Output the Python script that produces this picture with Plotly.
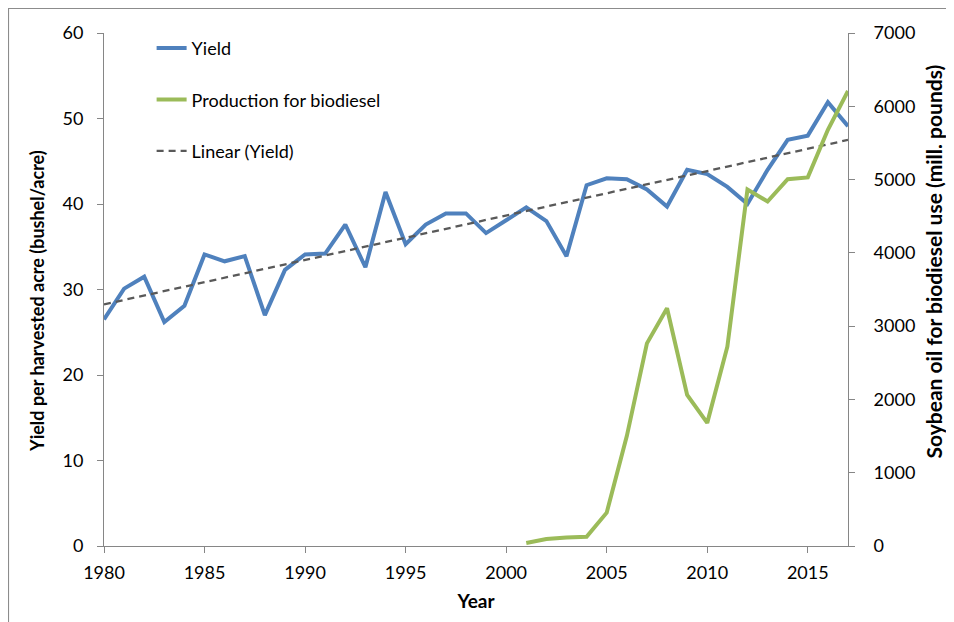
import numpy as np
import plotly.graph_objects as go

years = list(range(1980, 2018))
yield_bu = [26.5, 30.1, 31.5, 26.2, 28.1, 34.1, 33.3, 33.9, 27.0, 32.3,
            34.1, 34.2, 37.6, 32.6, 41.4, 35.3, 37.6, 38.9, 38.9, 36.6,
            38.1, 39.6, 38.0, 33.9, 42.2, 43.0, 42.9, 41.7, 39.7, 44.0,
            43.5, 42.0, 40.0, 44.0, 47.5, 48.0, 51.9, 49.1]

bio_years = list(range(2001, 2018))
biodiesel = [40, 95, 115, 125, 455, 1500, 2765, 3245, 2060, 1680,
             2720, 4865, 4700, 5005, 5030, 5680, 6210]

left_title = "Yield per harvested acre (bushel/acre)"
right_title = "Soybean oil for biodiesel use (mill. pounds)"

# Linear trendline of yield (as in the spreadsheet "Linear (Yield)")
coef = np.polyfit(years, yield_bu, 1)
trend = list(np.polyval(coef, years))

FONT = "Lato"
AXIS_COLOR = "#868686"

fig = go.Figure()
fig.add_trace(go.Scatter(x=years, y=yield_bu, mode="lines", name="Yield",
                         line=dict(color="#4F81BD", width=4),
                         legendgroup="a"))
fig.add_trace(go.Scatter(x=bio_years, y=biodiesel, mode="lines",
                         name="Production for biodiesel",
                         line=dict(color="#9BBB59", width=4),
                         yaxis="y2", legendgroup="b"))
fig.add_trace(go.Scatter(x=years, y=trend, mode="lines", name="Linear (Yield)",
                         line=dict(color="#595959", width=2.3, dash="7px,5px"),
                         legendgroup="c"))

axis_common = dict(showgrid=False, zeroline=False, showline=True,
                   linecolor=AXIS_COLOR, linewidth=1, ticks="outside",
                   ticklen=6, tickcolor=AXIS_COLOR, tickwidth=1,
                   tickfont=dict(family=FONT, size=18, color="#000000"))

fig.update_layout(
    width=946, height=614,
    margin=dict(l=96, r=106, t=25, b=76),
    paper_bgcolor="white", plot_bgcolor="white",
    font=dict(family=FONT, size=18, color="#000000"),
    xaxis=dict(range=[1980, 2017], tick0=1980, dtick=5,
               title=dict(text="<b>Year</b>", font=dict(family=FONT, size=19), standoff=13),
               ticklabelstandoff=4, **axis_common),
    yaxis=dict(range=[0, 60], dtick=10, ticklabelstandoff=10, **axis_common),
    yaxis2=dict(range=[0, 7000], dtick=1000, overlaying="y", side="right",
                ticklabelstandoff=15, **axis_common),
    legend=dict(x=0.064, y=1.006, xanchor="left", yanchor="top",
                bgcolor="rgba(0,0,0,0)", tracegroupgap=25,
                font=dict(family=FONT, size=18, color="#000000")),
    annotations=[
        dict(text="<b>" + left_title + "</b>", textangle=-90, showarrow=False,
             xref="paper", yref="paper", x=-0.0900, y=0.4776,
             xanchor="center", yanchor="middle",
             font=dict(family=FONT, size=18, color="#000000")),
        dict(text="<b>" + right_title + "</b>", textangle=-90, showarrow=False,
             xref="paper", yref="paper", x=1.1149, y=0.5556,
             xanchor="center", yanchor="middle",
             font=dict(family=FONT, size=21, color="#000000")),
    ],
    shapes=[dict(type="rect", xref="paper", yref="paper",
                 x0=-0.1284, x1=1.3, y0=-0.3, y1=1.0478,
                 line=dict(color="#8c8c8c", width=1.2), layer="below")],
)

fig.write_html("out.html")
